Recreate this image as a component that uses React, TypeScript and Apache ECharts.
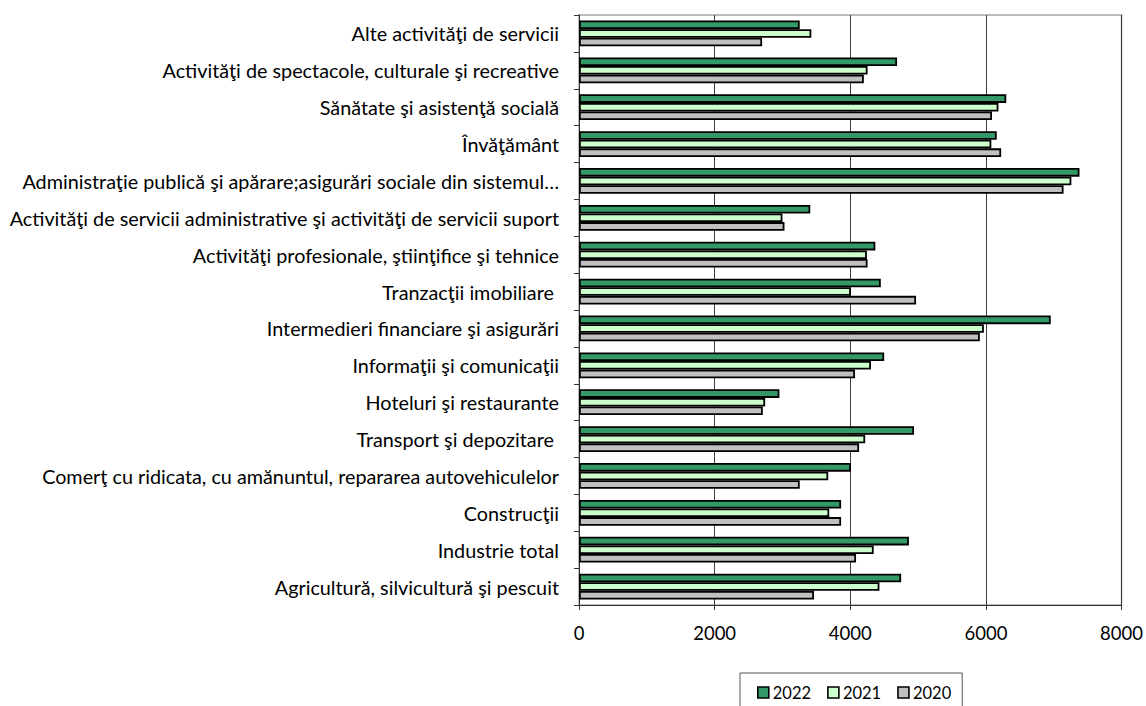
import React, { useEffect, useRef } from "react";
import * as echarts from "echarts";

const categories = [
  "Alte activităţi de servicii",
  "Activităţi de spectacole, culturale şi recreative",
  "Sănătate şi asistenţă socială",
  "Învăţământ",
  "Administraţie publică şi apărare;asigurări sociale din sistemul…",
  "Activităţi de servicii administrative şi activităţi de servicii suport",
  "Activităţi profesionale, ştiinţifice şi tehnice",
  "Tranzacţii imobiliare ",
  "Intermedieri financiare şi asigurări",
  "Informaţii şi comunicaţii",
  "Hoteluri şi restaurante",
  "Transport şi depozitare ",
  "Comerţ cu ridicata, cu amănuntul, repararea autovehiculelor",
  "Construcţii",
  "Industrie total",
  "Agricultură, silvicultură şi pescuit",
];

const values2022 = [3255, 4690, 6300, 6160, 7380, 3410, 4370, 4450, 6956, 4500, 2955, 4940, 4010, 3865, 4865, 4750];
const values2021 = [3426, 4255, 6185, 6080, 7260, 3000, 4245, 4010, 5970, 4305, 2745, 4220, 3675, 3690, 4345, 4430];
const values2020 = [2700, 4200, 6090, 6225, 7145, 3030, 4255, 4970, 5910, 4070, 2710, 4130, 3255, 3865, 4085, 3465];

const xTicks = [0, 2000, 4000, 6000, 8000];
const seriesNames = ["2022", "2021", "2020"];

const FONT = "Lato";

export default function App() {
  const ref = useRef<HTMLDivElement>(null);
  useEffect(() => {
    if (!ref.current) return;
    const chart = echarts.init(ref.current, undefined, { renderer: "svg" });
    const barStyle = (color: string) => ({ color, borderColor: "#000", borderWidth: 1.8 });
    chart.setOption({
      animation: false,
      textStyle: { fontFamily: FONT },
      grid: {
        left: 579,
        right: 24,
        top: 15,
        bottom: 101,
        show: true,
        borderColor: "#A6A6A6",
        borderWidth: 1.5,
      },
      legend: {
        left: 740,
        top: 673,
        data: seriesNames,
        icon: "rect",
        itemWidth: 11,
        itemHeight: 11,
        itemGap: 16,
        padding: [11, 11, 30, 17],
        borderColor: "#555",
        borderWidth: 1,
        itemStyle: { borderColor: "#000", borderWidth: 1.6 },
        textStyle: { fontFamily: FONT, fontSize: 16.5, color: "#000", padding: [0, 0, 0, -1] },
      },
      xAxis: {
        type: "value",
        min: xTicks[0],
        max: xTicks[xTicks.length - 1],
        interval: 2000,
        axisLine: { show: true, lineStyle: { color: "#333", width: 1 } },
        axisTick: { show: true, length: 5, lineStyle: { color: "#333" } },
        axisLabel: {
          fontFamily: FONT,
          fontSize: 18.5,
          color: "#000",
          margin: 18,
          formatter: (v: number) => String(v),
        },
        splitLine: { show: true, lineStyle: { color: "#404040", width: 1 } },
      },
      yAxis: {
        type: "category",
        data: categories,
        inverse: true,
        axisLine: { show: true, lineStyle: { color: "#333", width: 1 } },
        axisTick: { show: true, length: 5, lineStyle: { color: "#333" } },
        axisLabel: { fontFamily: FONT, fontSize: 19.8, color: "#000", margin: 20 },
      },
      series: [
        { name: seriesNames[0], type: "bar", data: values2022, itemStyle: barStyle("#339966"), barWidth: 8.6, barGap: "0%" },
        { name: seriesNames[1], type: "bar", data: values2021, itemStyle: barStyle("#CCFFCC"), barWidth: 8.6, barGap: "0%" },
        { name: seriesNames[2], type: "bar", data: values2020, itemStyle: barStyle("#C0C0C0"), barWidth: 8.6, barGap: "0%" },
      ],
    });
    return () => chart.dispose();
  }, []);
  return (
    <div
      ref={ref}
      style={{ position: "fixed", left: 0, top: 0, width: 1146, height: 706, background: "#fff" }}
    />
  );
}
